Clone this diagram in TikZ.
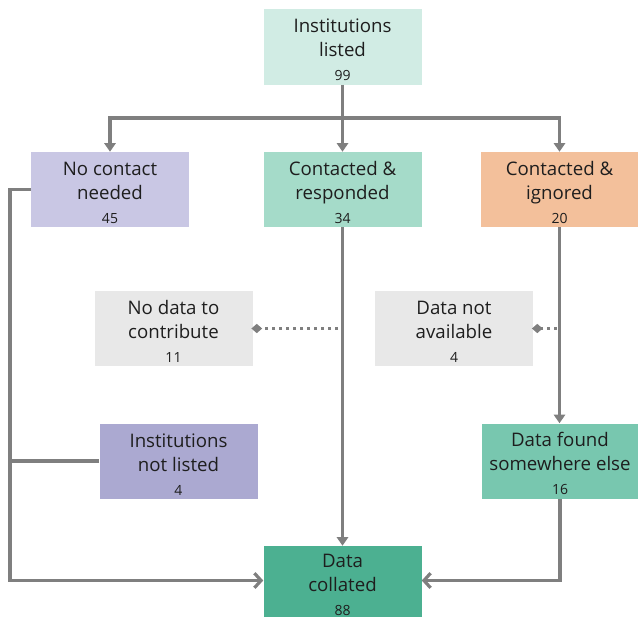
\documentclass[tikz,border=0pt]{standalone}
\usepackage{fontspec}
\setmainfont{Open Sans}
\usetikzlibrary{arrows.meta,calc}
\definecolor{ctop}{HTML}{D1ECE4}
\definecolor{cnc}{HTML}{C9C7E4}
\definecolor{ccr}{HTML}{A5DBC9}
\definecolor{cci}{HTML}{F3C09B}
\definecolor{cgray}{HTML}{E8E8E8}
\definecolor{cinl}{HTML}{ABA9D1}
\definecolor{cdfs}{HTML}{78C7AF}
\definecolor{cdc}{HTML}{4CB091}
\definecolor{cline}{HTML}{7F7F7F}
\definecolor{ctext}{HTML}{1E1E1E}
\newcommand{\numtxt}[1]{{\fontsize{10.5}{12}\selectfont #1}}
\newcommand{\topstrut}{\rule{0pt}{15pt}}
\tikzset{
  box/.style={draw=none, minimum width=118.5pt, minimum height=56.25pt, align=center,
    inner sep=0pt, text=ctext, font=\fontsize{14}{18}\selectfont},
  conn/.style={draw=cline, line width=2.4pt},
  arr/.style={conn, -{Triangle[width=8.5pt,length=6.5pt]}},
  openarr/.style={conn, -{Straight Barb[width=11pt,length=5pt]}},
  dotline/.style={draw=cline, line width=2.4pt, dash pattern=on 2.5pt off 2.75pt, -{Diamond[width=7pt,length=8pt]}, shorten >=-1pt}
}
\begin{document}
\begin{tikzpicture}[x=0.75pt,y=-0.75pt]
\useasboundingbox (0,0) rectangle (638,617);
\node[box, fill=ctop] (top) at (342.5,47) {\topstrut Institutions\\listed\\\numtxt{99}};
\node[box, fill=cnc] (nc) at (110,189.5) {\topstrut No contact\\needed\\\numtxt{45}};
\node[box, fill=ccr] (cr) at (342.5,189.5) {\topstrut Contacted \&\\responded\\\numtxt{34}};
\node[box, fill=cci, minimum width=117.75pt] (ci) at (559.5,189.5) {\topstrut Contacted \&\\ignored\\\numtxt{20}};
\node[box, fill=cgray] (nd) at (173.5,328.5) {\topstrut No data to\\contribute\\\numtxt{11}};
\node[box, fill=cgray] (dna) at (454,328.5) {\topstrut Data not\\available\\\numtxt{4}};
\node[box, fill=cinl] (inl) at (178.5,461) {\topstrut Institutions\\not listed\\\numtxt{4}};
\node[box, fill=cdfs, minimum width=117pt] (dfs) at (560,461) {\topstrut Data found\\somewhere else\\\numtxt{16}};
\node[box, fill=cdc, minimum height=53.25pt] (dc) at (342.5,581.5) {\topstrut Data\\collated\\\numtxt{88}};

\coordinate (split) at (342.5,118);
\coordinate (lb) at (10,580.5);
\coordinate (dotA) at (338,328.5);
\coordinate (dotB) at (557,328.5);

\draw[arr] (top.south) -- (cr.north);
\draw[arr] (split) -| (nc.north);
\draw[arr] (split) -| (ci.north);
\draw[arr] (cr.south) -- (dc.north);
\draw[arr] (ci.south) -- (ci.south |- dfs.north);
\draw[openarr] (nc.west) -| (lb) -- (lb -| dc.west);
\draw[conn] (inl.west) -- (inl.west -| lb);
\draw[openarr] (dfs.south) |- (dfs.south |- lb) -- (lb -| dc.east);
\draw[dotline] (dotA) -- (nd.east);
\draw[dotline] (dotB) -- (dna.east);
\end{tikzpicture}
\end{document}
